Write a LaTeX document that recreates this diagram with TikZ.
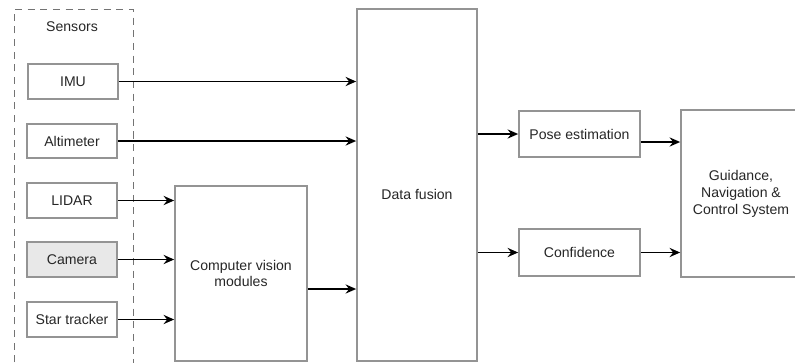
\documentclass[tikz,border=0pt]{standalone}
\usepackage{fontspec}
\setmainfont{Liberation Sans}
\usetikzlibrary{arrows.meta}

\begin{document}
\begin{tikzpicture}[x=0.025cm,y=-0.025cm,font=\fontsize{10}{12}\selectfont,
  box/.style={draw=black!42,line width=1.2pt,text=black!85,align=center,inner sep=0pt},
  arr/.style={black,line width=1.3pt,-{Stealth[length=7.5pt,width=6.5pt,inset=2.5pt]}}]
\useasboundingbox (0,0) rectangle (795,362);
\draw[black!55,line width=0.6pt,dash pattern=on 5pt off 4pt] (14,375) -- (14,9) -- (133,9) -- (133,375);
\node[text=black!85] (sens) at (72,27) {Sensors};
\node[box,minimum width=90*0.025cm,minimum height=35*0.025cm] (imu) at (73,81.5) {IMU};
\node[box,minimum width=90*0.025cm,minimum height=34*0.025cm] (alt) at (72,141) {Altimeter};
\node[box,minimum width=90*0.025cm,minimum height=35*0.025cm] (lidar) at (72,200.5) {LIDAR};
\node[box,fill=black!9,minimum width=90*0.025cm,minimum height=35*0.025cm] (cam) at (72,259.5) {Camera};
\node[box,minimum width=90*0.025cm,minimum height=35*0.025cm] (star) at (72,319.5) {Star tracker};
\node[box,minimum width=132*0.025cm,minimum height=175*0.025cm] (cv) at (241,273.5) {Computer vision\\modules};
\node[box,minimum width=120*0.025cm,minimum height=352*0.025cm,label={[text=black!85,yshift=-9*0.025cm]center:Data fusion}] (df) at (417,185) {};
\node[box,minimum width=121*0.025cm,minimum height=46*0.025cm] (pose) at (579.5,134) {Pose estimation};
\node[box,minimum width=121*0.025cm,minimum height=47*0.025cm] (conf) at (579.5,252.5) {Confidence};
\node[box,minimum width=120*0.025cm,minimum height=167*0.025cm] (gnc) at (741,193.5) {Guidance,\\Navigation \&\\Control System};
\draw[arr] (imu.east) -- (imu.east -| df.west);
\draw[arr] (alt.east) -- (alt.east -| df.west);
\draw[arr] (lidar.east) -- (lidar.east -| cv.west);
\draw[arr] (cam.east) -- (cam.east -| cv.west);
\draw[arr] (star.east) -- (star.east -| cv.west);
\draw[arr] (cv.east |- 0,289) -- (df.west |- 0,289);
\draw[arr] (pose.west -| df.east) -- (pose.west);
\draw[arr] (conf.west -| df.east) -- (conf.west);
\draw[arr] (pose.east |- 0,142) -- (gnc.west |- 0,142);
\draw[arr] (conf.east) -- (conf.east -| gnc.west);
\end{tikzpicture}
\end{document}
